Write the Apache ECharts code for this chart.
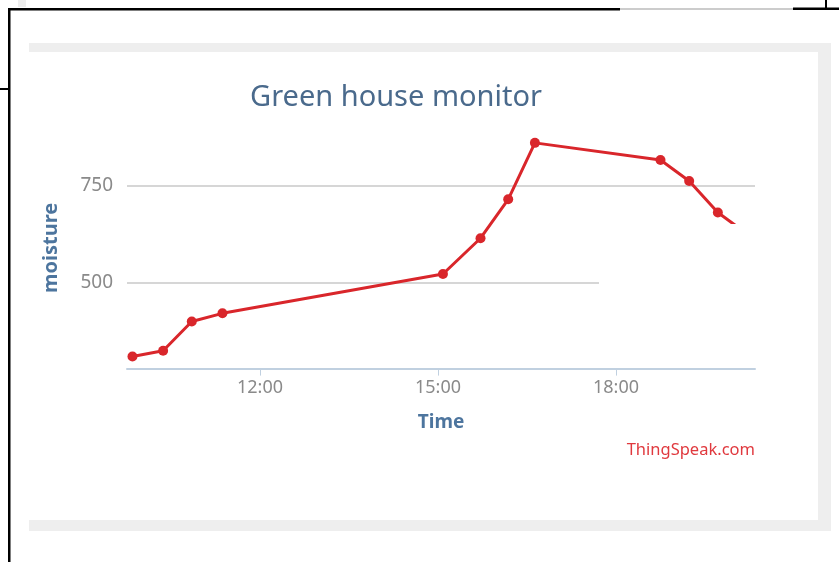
<!DOCTYPE html>
<html>
<head>
<meta charset="utf-8">
<script src="https://cdn.jsdelivr.net/npm/echarts@6/dist/echarts.min.js"></script>
<style>
  html, body { margin: 0; padding: 0; background: #fff; }
  #chart { width: 839px; height: 562px; }
</style>
</head>
<body>
<div id="chart"></div>
<script>
// readings (time of day, moisture)
const times = ['09:51', '10:22', '10:51', '11:22', '15:05', '15:43', '16:11', '16:38', '18:45', '19:14', '19:43', '20:12']
const moisture = [311, 326, 401, 422, 523, 615, 715, 860, 816, 762, 681, 627]
const xTicks = [12, 15, 18]
const yTicks = [500, 750]

const toHours = t => {
  const [h, m] = t.split(':').map(Number)
  return h + m / 60
}
const points = times.map((t, i) => [toHours(t), moisture[i]])

const myChart = echarts.init(document.getElementById('chart'))

const option = {
  backgroundColor: '#fff',
  animation: false,
  title: {
    text: 'Green house monitor',
    left: 391,
    top: 78,
    textAlign: 'center',
    textStyle: { fontFamily: 'Noto Sans', fontSize: 29, fontWeight: 'normal', color: '#4a6a8c' }
  },
  grid: { left: 127, right: 84, top: 127.3, bottom: 193.4 },
  xAxis: {
    type: 'value',
    min: 9.758,
    max: 20.343,
    name: 'Time',
    nameLocation: 'middle',
    nameGap: 44,
    nameTextStyle: { fontFamily: 'Noto Sans', fontSize: 19, fontWeight: 'bold', color: '#4d759e' },
    axisLine: { show: true, lineStyle: { color: '#c0d0e0', width: 2 } },
    axisTick: { show: true, customValues: xTicks, length: 7, lineStyle: { color: '#c0d0e0', width: 1 } },
    axisLabel: {
      customValues: xTicks,
      formatter: v => Math.round(v) + ':00',
      margin: 10,
      fontFamily: 'Noto Sans', fontSize: 18, color: '#8a8a8a'
    },
    splitLine: { show: false }
  },
  yAxis: {
    type: 'value',
    min: 280,
    max: 900,
    name: 'moisture',
    nameLocation: 'middle',
    nameGap: 66,
    nameTextStyle: { fontFamily: 'Noto Sans', fontSize: 20, fontWeight: 'bold', color: '#4d759e' },
    axisLine: { show: false },
    axisTick: { show: false, customValues: yTicks },
    axisLabel: { customValues: yTicks, margin: 14, fontFamily: 'Noto Sans', fontSize: 19, color: '#8a8a8a' },
    splitLine: { show: true, lineStyle: { color: '#d6d6d6', width: 2 } }
  },
  series: [{
    type: 'line',
    data: points,
    symbol: 'circle',
    symbolSize: 10,
    lineStyle: { color: '#d9262b', width: 3 },
    itemStyle: { color: '#d9262b' },
    z: 3
  }],
  graphic: [
    // grey panel around the chart box
    { type: 'rect', z: -10, shape: { x: 29, y: 43, width: 802, height: 488 }, style: { fill: '#eeeeee' } },
    { type: 'rect', z: -9, shape: { x: 29, y: 52, width: 789, height: 468 }, style: { fill: '#ffffff' } },
    // page frame lines
    { type: 'rect', z: 50, shape: { x: 8, y: 8, width: 612, height: 2.5 }, style: { fill: '#000' } },
    { type: 'rect', z: 50, shape: { x: 620, y: 8.5, width: 173, height: 1 }, style: { fill: '#999' } },
    { type: 'rect', z: 50, shape: { x: 793, y: 7.5, width: 46, height: 2.5 }, style: { fill: '#000' } },
    { type: 'rect', z: 50, shape: { x: 825, y: 0, width: 2, height: 9 }, style: { fill: '#000' } },
    { type: 'rect', z: 50, shape: { x: 8, y: 8, width: 2.5, height: 554 }, style: { fill: '#000' } },
    { type: 'rect', z: 50, shape: { x: 0, y: 88, width: 9, height: 2 }, style: { fill: '#000' } },
    { type: 'rect', z: 50, shape: { x: 18, y: 0, width: 8, height: 7 }, style: { fill: '#eeeeee' } },
    // white patch hiding part of the plot
    { type: 'rect', z: 100, shape: { x: 599, y: 224, width: 162, height: 80 }, style: { fill: '#ffffff' } },
    {
      type: 'text', z: 60, right: 84, top: 442,
      style: { text: 'ThingSpeak.com', fontFamily: 'Noto Sans', fontSize: 16.5, fill: '#e0393e' }
    }
  ]
}

myChart.setOption(option)
window.addEventListener('resize', () => {
  myChart.resize()
})
</script>
</body>
</html>
